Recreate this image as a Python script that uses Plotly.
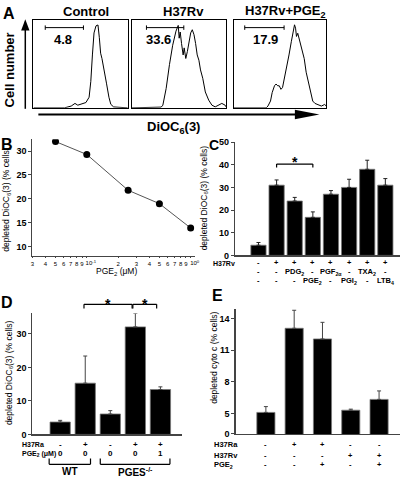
import math
import plotly.graph_objects as go

W, H = 406, 483
FONT = "Liberation Sans, Arial, Helvetica, sans-serif"

# ---------------- DATA ----------------
# Panel A: flow cytometry histograms (x: fraction of box width, y: fraction of box height)
ctrl_x = [0, 0.33, 0.40, 0.44, 0.47, 0.50, 0.556, 0.59, 0.608, 0.625, 0.642, 0.663, 0.684,
          0.698, 0.712, 0.726, 0.747, 0.774, 0.80, 0.82, 0.85, 1.0]
ctrl_y = [0, 0, 0.02, 0.05, 0.03, 0.04, 0.06, 0.12, 0.30, 0.60, 0.85, 0.93, 0.94,
          0.80, 0.62, 0.56, 0.45, 0.28, 0.12, 0.04, 0.01, 0]
rv_x = [0, 0.3125, 0.33, 0.365, 0.40, 0.434, 0.469, 0.493, 0.503, 0.514, 0.528, 0.545, 0.556,
        0.573, 0.59, 0.608, 0.625, 0.642, 0.66, 0.677, 0.694, 0.712, 0.729, 0.753, 0.78,
        0.816, 0.85, 0.885, 0.92, 0.955, 0.99, 1.0]
rv_y = [0, 0.008, 0.03, 0.22, 0.49, 0.71, 0.87, 0.935, 0.79, 0.86, 0.73, 0.60, 0.68,
        0.56, 0.64, 0.75, 0.85, 0.886, 0.83, 0.73, 0.60, 0.54, 0.43, 0.335, 0.18,
        0.087, 0.03, 0.011, 0.03, 0.05, 0.03, 0.011]
pge_x = [0, 0.35, 0.368, 0.396, 0.414, 0.439, 0.456, 0.474, 0.491, 0.509, 0.526, 0.561, 0.596,
         0.621, 0.639, 0.656, 0.667, 0.677, 0.691, 0.712, 0.737, 0.761, 0.782, 0.807, 0.832,
         0.853, 0.877, 0.912, 0.947, 0.982, 1.0]
pge_y = [0, 0, 0.02, 0.077, 0.173, 0.25, 0.27, 0.25, 0.25, 0.21, 0.23, 0.40, 0.60,
         0.75, 0.846, 0.942, 0.904, 0.81, 0.846, 0.75, 0.635, 0.558, 0.404, 0.288, 0.173,
         0.077, 0.05, 0.035, 0.02, 0.038, 0.02]
A_titles = ["Control", "H37Rv", "H37Rv+PGE<sub>2</sub>"]
A_values = ["4.8", "33.6", "17.9"]

# Panel B: dose response
B_pge = [0.05, 0.1, 0.25, 0.5, 1.0]
B_depleted = [32.0, 29.3, 21.8, 19.0, 13.9]
B_minor_vals = [0.03, 0.04, 0.05, 0.06, 0.07, 0.08, 0.09, 0.2, 0.3, 0.4, 0.5, 0.6, 0.7, 0.8, 0.9]
B_minor_text = ["3", "4", "5", "6", "7", "8", "9", "2", "3", "4", "5", "6", "7", "8", "9"]
B_decade_vals = [0.1, 1.0]
B_decade_text = ["10<sup>-1</sup>", "10<sup>0</sup>"]

# Panel C: eicosanoids
C_vals = [4.5, 31, 24, 16.8, 27, 30, 38, 31]
C_err = [1.2, 2.3, 1.6, 2.4, 1.6, 3.6, 4.0, 2.9]
C_row1 = ["-", "+", "+", "+", "+", "+", "+", "+"]
C_row2 = ["-", "-", "PDG<sub>2</sub>", "-", "PGF<sub>2α</sub>", "-", "TXA<sub>2</sub>", "-"]
C_row3 = ["-", "-", "-", "PGE<sub>2</sub>", "-", "PGI<sub>2</sub>", "-", "LTB<sub>4</sub>"]

# Panel D: WT vs PGES-/-
D_vals = [3.7, 15.3, 6.1, 32.1, 13.4]
D_err = [0.5, 8.1, 1.0, 4.0, 0.8]
D_h37ra = ["-", "+", "-", "+", "+"]
D_pge = ["0", "0", "0", "0", "1"]

# Panel E: cytochrome c
E_vals = [5.12, 13.07, 12.06, 5.33, 6.35]
E_err = [0.55, 1.7, 1.57, 0.1, 0.8]
E_h37ra = ["-", "+", "+", "-", "-"]
E_h37rv = ["-", "-", "-", "+", "+"]
E_pge = ["-", "-", "+", "-", "+"]
E_tickvals = [3.1, 5, 8, 11, 14]
E_ticktext = ["0", "5", "8", "11", "14"]


# ---------------- HELPERS ----------------
def X(p):
    return p / W


def Y(p):
    return 1 - p / H


fig = go.Figure()
layout = {}
annotations = []
shapes = []

AXC = "#444"
tickfont = dict(family=FONT, size=9, color="black", weight="bold")


def add_axes(n, xd, yd, xkw, ykw):
    xs = "xaxis" if n == 1 else f"xaxis{n}"
    ys = "yaxis" if n == 1 else f"yaxis{n}"
    xa = "x" if n == 1 else f"x{n}"
    ya = "y" if n == 1 else f"y{n}"
    base = dict(showgrid=False, zeroline=False)
    layout[xs] = dict(domain=[X(xd[0]), X(xd[1])], anchor=ya, **base, **xkw)
    layout[ys] = dict(domain=[Y(yd[1]), Y(yd[0])], anchor=xa, **base, **ykw)
    return xa, ya


def text(px, pyy, s, size=9, bold=True, angle=0, xanchor="center", xref="paper", yref="paper", xv=None, yv=None):
    annotations.append(dict(
        x=xv if xv is not None else X(px), y=yv if yv is not None else Y(pyy),
        xref=xref, yref=yref, text=s, showarrow=False, textangle=angle,
        xanchor=xanchor, yanchor="middle",
        font=dict(family=FONT, size=size, color="black", weight="bold" if bold else "normal")))


def line(x0, y0, x1, y1, xref="paper", yref="paper", width=1.2, color="black"):
    shapes.append(dict(type="line", x0=x0, y0=y0, x1=x1, y1=y1, xref=xref, yref=yref,
                       line=dict(color=color, width=width)))


# ---------------- PANEL A ----------------
A_boxes = [(32, 128), (132, 228), (236, 330)]
A_curves = [(ctrl_x, ctrl_y), (rv_x, rv_y), (pge_x, pge_y)]
A_gates = [(0.125, 0.53), (0.156, 0.552), (0.117, 0.543)]
A_val_px = [62, 159.5, 268.5]
box_style = dict(range=[0, 1], showline=True, mirror=True, linecolor="black", linewidth=1,
                 showticklabels=False, ticks="")
for i, ((bx0, bx1), (cx, cy), (g0, g1)) in enumerate(zip(A_boxes, A_curves, A_gates), start=1):
    xa, ya = add_axes(i, (bx0, bx1), (15, 105), dict(box_style), dict(box_style))
    fig.add_trace(go.Scatter(x=cx, y=cy, mode="lines", line=dict(color="black", width=1),
                             xaxis=xa, yaxis=ya, showlegend=False, hoverinfo="skip"))
    line(g0, 0.91, g1, 0.91, xref=xa, yref=ya, width=1)
    line(g0, 0.885, g0, 0.935, xref=xa, yref=ya, width=1)
    line(g1, 0.885, g1, 0.935, xref=xa, yref=ya, width=1)
    text((bx0 + bx1) / 2 + 5, 7, A_titles[i - 1], size=13)
    text(A_val_px[i - 1], 35, A_values[i - 1], size=13)

text(7, 9, "A", size=16)
text(8, 66, "Cell number", size=13, angle=-90)
text(174, 125, "DiOC<sub>6</sub>(3)", size=13)
# axis arrows
line(X(23.7), Y(106), X(23.7), Y(24), width=1.5)
shapes.append(dict(type="path", xref="paper", yref="paper",
                   path=f"M {X(19.5)},{Y(26)} L {X(23.7)},{Y(14.5)} L {X(28)},{Y(26)} Z",
                   fillcolor="black", line=dict(color="black", width=0)))
line(X(37), Y(111.8), X(302), Y(111.8), width=2)
shapes.append(dict(type="path", xref="paper", yref="paper",
                   path=f"M {X(298)},{Y(107)} L {X(323)},{Y(111.8)} L {X(298)},{Y(116.6)} Z",
                   fillcolor="black", line=dict(color="black", width=0)))

# ---------------- PANEL B ----------------
B_range = [math.log10(0.03), 0.038]
xa, ya = add_axes(4, (31, 196), (137, 256.5),
                  dict(type="log", range=B_range, tickvals=B_minor_vals, ticktext=B_minor_text,
                       tickangle=0, tickfont=dict(family=FONT, size=6, color="black"), ticks="outside", ticklen=1,
                       tickcolor=AXC, showline=True, linecolor=AXC, linewidth=1.2),
                  dict(range=[8.0, 32.5], tickvals=[10, 15, 20, 25, 30], tickfont=tickfont, ticks="outside",
                       ticklen=3, tickcolor=AXC, showline=True, linecolor=AXC, linewidth=1.2))
# decade labels on an overlaid axis, nudged right like the original
layout["xaxis8"] = dict(overlaying="x4", anchor="y4", side="bottom", type="log", range=B_range,
                        tickvals=B_decade_vals, ticktext=B_decade_text, tickangle=0, ticklabelshift=4,
                        tickfont=dict(family=FONT, size=6, color="black"), ticks="outside", ticklen=1,
                        tickcolor=AXC, showline=False, showgrid=False, zeroline=False)
fig.add_trace(go.Scatter(x=[], y=[], xaxis="x8", yaxis="y4", showlegend=False, hoverinfo="skip"))
fig.add_trace(go.Scatter(x=B_pge, y=B_depleted, mode="lines+markers",
                         line=dict(color="#555", width=1), marker=dict(color="black", size=7),
                         xaxis=xa, yaxis=ya, showlegend=False, hoverinfo="skip"))
text(5, 142, "B", size=16)
text(5, 198, "depleted DiOC<sub>6</sub>(3) (% cells)", size=8.5, bold=False, angle=-90)
text(117, 272, "PGE<sub>2</sub> (μM)", size=8.5, bold=False)

# ---------------- PANEL C ----------------
bar_y_common = dict(tickfont=tickfont, ticks="outside", ticklen=3, tickcolor=AXC,
                    showline=True, linecolor=AXC, linewidth=1.2)
bar_x_common = dict(showticklabels=False, ticks="", showline=True, linecolor=AXC, linewidth=1.2)

xa, ya = add_axes(5, (237, 405), (140, 255.7),
                  dict(range=[-1.30, 7.81], **bar_x_common),
                  dict(range=[0, 50], tickvals=[0, 10, 20, 30, 40, 50], **bar_y_common))
fig.add_trace(go.Bar(x=list(range(len(C_vals))), y=C_vals, width=0.84,
                     marker=dict(color="black", line=dict(color="#777", width=0.8)),
                     error_y=dict(type="data", array=C_err, arrayminus=[0] * len(C_err), symmetric=False,
                                  color="#222", thickness=1, width=2),
                     xaxis=xa, yaxis=ya, showlegend=False, hoverinfo="skip"))
text(216, 143, "C", size=14)
text(206, 197, "depleted DiOC<sub>6</sub>(3) (% cells)", size=8.5, bold=False, angle=-90)
# significance bracket
line(1, 40.3, 3, 40.3, xref=xa, yref=ya, width=1.2)
line(1, 40.3, 1, 38.8, xref=xa, yref=ya, width=1.2)
line(3, 40.3, 3, 38.8, xref=xa, yref=ya, width=1.2)
text(0, 0, "*", size=14, xref=xa, yref="paper", xv=2, yv=Y(160))
# table
text(213, 263.5, "H37Rv", size=7, xanchor="left")
for i in range(len(C_vals)):
    text(0, 0, C_row1[i], size=7.5, xref=xa, xv=i, yv=Y(263))
    text(0, 0, C_row2[i], size=7.5, xref=xa, xv=i, yv=Y(272.5))
    text(0, 0, C_row3[i], size=7.5, xref=xa, xv=i, yv=Y(281.5))

# ---------------- PANEL D ----------------
xa, ya = add_axes(6, (31, 183), (315, 438.5),
                  dict(range=[-1.106, 4.855], **bar_x_common),
                  dict(range=[0, 36.1], tickvals=[0, 10, 20, 30], **bar_y_common))
fig.add_trace(go.Bar(x=list(range(len(D_vals))), y=D_vals, width=0.81,
                     marker=dict(color="black", line=dict(color="#777", width=0.8)),
                     error_y=dict(type="data", array=D_err, arrayminus=[0] * len(D_err), symmetric=False,
                                  color="#444", thickness=1, width=2),
                     xaxis=xa, yaxis=ya, showlegend=False, hoverinfo="skip"))
text(5, 304, "D", size=16)
text(7, 375, "depleted DiOC<sub>6</sub>(3) (% cells)", size=8.5, bold=False, angle=-90)
for (a, b) in [(0.95, 2.87), (2.9, 3.85)]:
    line(a, Y(305.7), b, Y(305.7), xref=xa, width=1.2)
    line(a, Y(305.7), a, Y(310), xref=xa, width=1.2)
    line(b, Y(305.7), b, Y(310), xref=xa, width=1.2)
    text(0, 0, "*", size=14, xref=xa, xv=(a + b) / 2, yv=Y(305))
text(18, 448.5, "H37Ra", size=7, xanchor="left")
text(18, 458, "PGE<sub>2</sub> (μM)", size=7, xanchor="left")
for i in range(len(D_vals)):
    text(0, 0, D_h37ra[i], size=8, xref=xa, xv=i, yv=Y(448.5))
    text(0, 0, D_pge[i], size=8, xref=xa, xv=i, yv=Y(458))
for (a, b, lab) in [(-0.44, 1.21, "WT"), (1.6, 4.38, "PGES<sup>-/-</sup>")]:
    line(a, Y(469), b, Y(469), xref=xa, width=1.2)
    line(a, Y(463), a, Y(469), xref=xa, width=1.2)
    line(b, Y(463), b, Y(469), xref=xa, width=1.2)
    text(0, 0, lab, size=10, xref=xa, xv=(a + b) / 2, yv=Y(476.5))

# ---------------- PANEL E ----------------
xa, ya = add_axes(7, (237.7, 405), (310, 438.3),
                  dict(range=[-1.07, 4.74], **bar_x_common),
                  dict(range=[3.06, 14.93], tickvals=E_tickvals, ticktext=E_ticktext, **bar_y_common))
fig.add_trace(go.Bar(x=list(range(len(E_vals))), y=E_vals, width=0.64,
                     marker=dict(color="black", line=dict(color="#777", width=0.8)),
                     error_y=dict(type="data", array=E_err, arrayminus=[0] * len(E_err), symmetric=False,
                                  color="#444", thickness=1, width=2),
                     xaxis=xa, yaxis=ya, showlegend=False, hoverinfo="skip"))
text(219.5, 297, "E", size=16)
text(215, 360, "depleted cyto c (% cells)", size=8.5, bold=False, angle=-90)
text(214, 448.5, "H37Ra", size=7.5, xanchor="left")
text(214, 460, "H37Rv", size=7.5, xanchor="left")
text(214, 469.5, "PGE<sub>2</sub>", size=7.5, xanchor="left")
for i in range(len(E_vals)):
    text(0, 0, E_h37ra[i], size=7.5, xref=xa, xv=i, yv=Y(448.5))
    text(0, 0, E_h37rv[i], size=7.5, xref=xa, xv=i, yv=Y(460))
    text(0, 0, E_pge[i], size=7.5, xref=xa, xv=i, yv=Y(469.5))

fig.update_layout(**layout)
fig.update_layout(width=W, height=H, margin=dict(l=0, r=0, t=0, b=0),
                  paper_bgcolor="white", plot_bgcolor="white",
                  annotations=annotations, shapes=shapes, bargap=0,
                  font=dict(family=FONT, color="black"))
fig.write_html("out.html", config={"displayModeBar": False, "staticPlot": True},
               post_script="document.body.style.margin='0px';document.body.style.overflow='hidden';")
